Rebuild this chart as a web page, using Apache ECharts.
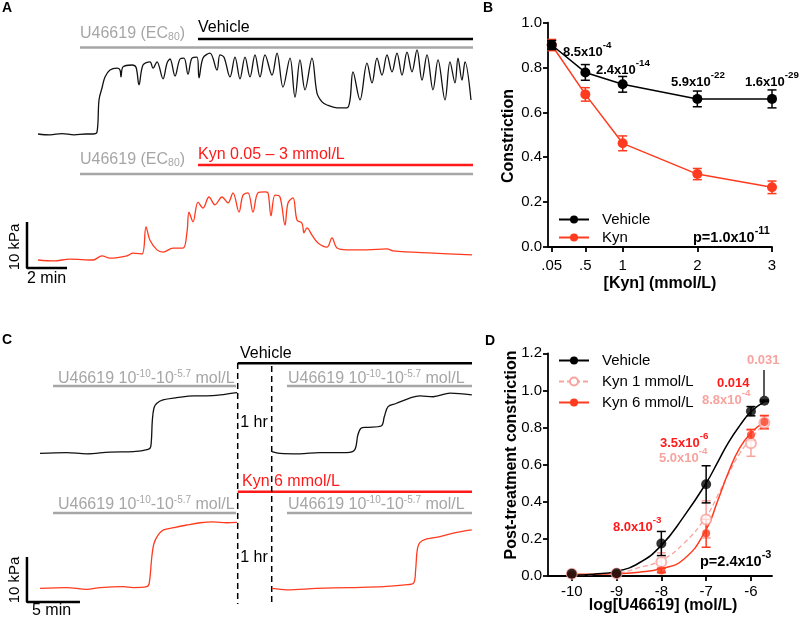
<!DOCTYPE html>
<html>
<head>
<meta charset="utf-8">
<script src="https://cdn.jsdelivr.net/npm/echarts@6.0.0/dist/echarts.min.js"></script>
<style>
  html, body { margin: 0; padding: 0; background: #fff; }
  #main { width: 800px; height: 619px; }
</style>
</head>
<body>
<div id="main"></div>
<script>
// ---- A: myograph traces (time in min, tension in kPa) ----
const vehTraceA = [
  [0, 0], [0.6, -0.2], [1.2, 0.1], [1.8, -0.2], [2.4, 0], [2.75, 0], [2.95, 0.4], [3.05, 7.4], [3.2, 10],
  [3.35, 12.4], [3.6, 13.9], [3.95, 14.3], [4.1, 13.9], [4.15, 12.4], [4.25, 14.6], [4.7, 15], [4.9, 14.5],
  [5.05, 10.7], [5.25, 15], [5.6, 15.7], [5.75, 14.3], [5.95, 15.7], [6.25, 12], [6.45, 15.4], [6.6, 16.3],
  [6.85, 12.6], [7.1, 16.3], [7.3, 16.5], [7.5, 13], [7.7, 16.5], [7.95, 16.7], [8.05, 12.2], [8.25, 16.5],
  [8.6, 17.6], [8.95, 13.9], [9.1, 17.2], [9.3, 16.7], [9.6, 12.4], [9.85, 16.7], [10.1, 12], [10.35, 16.7],
  [10.6, 12.4], [10.85, 17.2], [11.1, 12.4], [11.35, 17.2], [11.7, 12.8], [11.95, 17.6], [12.25, 10.2],
  [12.6, 16.5], [12.85, 8], [13.1, 16.1], [13.35, 9.6], [13.7, 16.5], [13.95, 8.9], [14.2, 7], [14.45, 6.3],
  [14.95, 5.7], [15.45, 5.7], [15.6, 7.4], [15.75, 13.5], [16.1, 7.4], [16.45, 15.4], [16.7, 11.1],
  [16.95, 16.5], [17.2, 12.8], [17.45, 17.2], [17.7, 13.5], [17.95, 17.6], [18.2, 12.8], [18.45, 17.8],
  [18.7, 13.5], [18.95, 18.3], [19.2, 11.7], [19.45, 17.2], [19.75, 9.6], [20, 16.1], [20.35, 7.4],
  [20.6, 15.7], [20.85, 11.1], [21, 16.5], [21.2, 11.7], [21.35, 15.7], [21.65, 7.4]
];
const kynTraceA = [
  [0, 0], [0.8, -0.2], [1.6, 0.2], [2.75, 0], [3.2, 0.9], [3.6, 0.4], [4.45, 0.9], [4.75, 1.5], [5.2, 1.3],
  [5.4, 7.2], [5.6, 4.3], [5.95, 2.2], [6.25, 1.7], [6.75, 2.6], [7.25, 2.6], [7.45, 6.1], [7.55, 10.4],
  [7.75, 8.3], [8, 12.6], [8.25, 11.3], [8.55, 13.7], [8.85, 12], [9.2, 13.7], [9.5, 12.4], [9.75, 14.6],
  [10.05, 10.4], [10.25, 14.1], [10.5, 14.6], [10.75, 10.4], [11, 14.6], [11.35, 14.8], [11.5, 14.6],
  [11.65, 9.6], [11.85, 14.1], [12.1, 13.7], [12.35, 7.6], [12.5, 12.4], [12.75, 13.5], [12.95, 8.7],
  [13.2, 8], [13.3, 5.9], [13.45, 7], [13.7, 5.4], [14, 3.7], [14.45, 2.8], [14.7, 4.8], [14.95, 2.6],
  [15.45, 2.2], [16.45, 2.2], [17.45, 2.4], [17.75, 2], [19.75, 1.5], [21.7, 1.1]
];

// ---- C: cumulative U46619 before / after 1 hr treatment ----
const vehTraceC1 = [
  [0, -0.1], [2.5, 0.1], [4.4, -0.2], [6.6, 0.2], [8.8, 0.3], [10.2, 0.8], [10.45, 1.4], [10.6, 7.3],
  [10.75, 10], [11, 11], [11.6, 11.8], [12.9, 12.3], [14.5, 12.7], [15.7, 12.7], [17, 12.9], [18.2, 13.3], [18.6, 13.4]
];
const vehTraceC2 = [
  [0, 0.3], [0.75, -0.1], [2.6, -0.2], [4.5, 0.1], [7.05, 0.1], [7.8, 0.7], [8.1, 4], [8.4, 5.5], [8.9, 5.7],
  [10.3, 6], [10.6, 8.1], [10.95, 10.3], [11.7, 11], [13, 12.2], [13.95, 12.7], [15.2, 12.5], [16.8, 13.3], [18.85, 12.9]
];
const kynTraceC1 = [
  [0, -0.1], [2.5, 0.1], [4.4, -0.3], [5.7, 0.1], [7.85, 0.3], [8.8, 0.1], [10.05, 0.3], [10.3, 1.05],
  [10.55, 6.95], [10.75, 9.9], [11.15, 11.8], [11.65, 12.9], [12.6, 13.4], [13.85, 14], [15.1, 14.5],
  [16.35, 14.7], [17.6, 14.5], [18.6, 14.6]
];
const kynTraceC2 = [
  [0, -0.1], [1.4, -0.4], [4.2, -0.1], [7.35, 0.1], [10.5, 0.3], [12.55, 0.7], [13.35, 1.05], [13.55, 4],
  [13.7, 8.4], [13.95, 10.1], [14.6, 10.9], [15.85, 11.4], [17.1, 12.2], [18.85, 12.9]
];

// ---- B: constriction vs [Kyn] ----
const kynDoses = [0.05, 0.5, 1, 2, 3];
const kynDoseLabels = ['.05', '.5', '1', '2', '3'];
const vehMeanB = [0.90, 0.778, 0.725, 0.66, 0.66];
const vehErrB = [0.02, 0.035, 0.035, 0.035, 0.04];
const kynMeanB = [0.90, 0.68, 0.462, 0.325, 0.266];
const kynErrB = [0.025, 0.03, 0.033, 0.025, 0.028];
const pMantB = ['8.5x10', '2.4x10', '5.9x10', '1.6x10'];
const pExpB = ['-4', '-14', '-22', '-29'];

// ---- D: post-treatment U46619 curves ----
const logDoses = [-10, -9, -8, -7, -6, -5.7];
const logTicks = [-10, -9, -8, -7, -6];
const vehMeanD = [0.012, 0.015, 0.175, 0.494, 0.888, 0.944];
const vehErrD = [0.004, 0.004, 0.065, 0.1, 0.025, 0.004];
const kyn1MeanD = [0.012, 0.014, 0.075, 0.305, 0.715, 0.826];
const kyn1ErrD = [0.004, 0.004, 0.05, 0.1, 0.07, 0.035];
const kyn6MeanD = [0.01, 0.012, 0.03, 0.23, 0.76, 0.83];
const kyn6ErrD = [0.004, 0.004, 0.012, 0.075, 0.03, 0.035];
// fitted curves as drawn in the figure
const fitX = [-10, -9.5, -9, -8.5, -8, -7.5, -7, -6.75, -6.5, -6.25, -6, -5.7];
const vehFit = [0.004, 0.01, 0.025, 0.07, 0.165, 0.32, 0.5, 0.61, 0.72, 0.81, 0.885, 0.94];
const kyn1Fit = [0.004, 0.008, 0.015, 0.045, 0.085, 0.175, 0.32, 0.43, 0.55, 0.66, 0.74, 0.82];
const kyn6Fit = [0.01, 0.011, 0.013, 0.02, 0.04, 0.09, 0.25, 0.4, 0.56, 0.69, 0.77, 0.83];

const FONT = 'Liberation Sans, Arial, Helvetica, sans-serif';
const BLACK = '#000';
const RED = '#ff3b1f';
const BARRED = '#ff1a1a';
const PINK = '#f8a39e';
const GREY = '#a6a6a6';

const zip = (xs, ys) => xs.map((x, i) => [x, ys[i]]);
const errData = (xs, m, e) => xs.map((x, i) => [x, m[i] - e[i], m[i] + e[i]]);

function errorBar(params, api) {
  const x = api.value(0);
  const top = api.coord([x, api.value(2)]);
  const bot = api.coord([x, api.value(1)]);
  const w = 4.5;
  const style = { stroke: api.visual('color'), lineWidth: 1.5 };
  return {
    type: 'group',
    children: [
      { type: 'line', shape: { x1: top[0], y1: top[1], x2: bot[0], y2: bot[1] }, style },
      { type: 'line', shape: { x1: top[0] - w, y1: top[1], x2: top[0] + w, y2: top[1] }, style },
      { type: 'line', shape: { x1: bot[0] - w, y1: bot[1], x2: bot[0] + w, y2: bot[1] }, style }
    ]
  };
}

// text helpers for the annotations
function txt(x, y, text, o) {
  o = o || {};
  return {
    type: 'text', x: x, y: y, rotation: o.rot || 0, silent: true,
    style: {
      text: text, fill: o.color || BLACK, fontSize: o.size || 16,
      fontWeight: o.bold ? 'bold' : 'normal', fontFamily: FONT,
      align: o.align || 'left', verticalAlign: 'middle', rich: o.rich
    }
  };
}
function supText(x, y, mant, exp, color, size) {
  size = size || 13;
  return txt(x, y - 2.5, '{m|' + mant + '}{s|' + exp + '}', {
    rich: {
      m: { fontSize: size, fontWeight: 'bold', fontFamily: FONT, fill: color, padding: [5, 0, 0, 0], verticalAlign: 'bottom' },
      s: { fontSize: size * 0.75, fontWeight: 'bold', fontFamily: FONT, fill: color, verticalAlign: 'top' }
    }
  });
}
function line(x1, y1, x2, y2, color, w, dash) {
  return {
    type: 'line', silent: true,
    shape: { x1: x1, y1: y1, x2: x2, y2: y2 },
    style: { stroke: color, lineWidth: w, lineDash: dash || null }
  };
}
const ec80 = '{g|U46619 (EC}{b|80}{g|)}';
const ec80Rich = {
  g: { fontSize: 16, fontFamily: FONT, fill: GREY, verticalAlign: 'top' },
  b: { fontSize: 10.5, fontFamily: FONT, fill: GREY, verticalAlign: 'bottom', padding: [6, 0, 0, 0] }
};
const uRange = '{g|U46619 10}{s|-10}{g|-10}{s|-5.7}{g| mol/L}';
const uRich = {
  g: { fontSize: 16, fontFamily: FONT, fill: GREY, verticalAlign: 'bottom', padding: [2, 0, 0, 0] },
  s: { fontSize: 10, fontFamily: FONT, fill: GREY, verticalAlign: 'top' }
};

// grids: 0 A-veh, 1 A-kyn, 2 B, 3 C-veh pre, 4 C-veh post, 5 C-kyn pre, 6 C-kyn post, 7 D
const grids = [
  { left: 18, top: 42, width: 460, height: 101.2 },
  { left: 18, top: 186.4, width: 460, height: 87.4 },
  { left: 548, top: 22.6, width: 224, height: 224.4 },
  { left: 24.1, top: 376.5, width: 217.3, height: 90 },
  { left: 272, top: 376.5, width: 201.4, height: 90 },
  { left: 24.1, top: 511.5, width: 217.3, height: 94.5 },
  { left: 272, top: 511.5, width: 201.4, height: 94.5 },
  { left: 548, top: 353.3, width: 224, height: 222.7 }
];
const hidden = (i, min, max) => ({ gridIndex: i, type: 'value', min: min, max: max, show: false });

const axisLineStyle = { show: true, lineStyle: { color: BLACK, width: 1.8 } };
const tickStyle = { show: true, length: 5, lineStyle: { color: BLACK, width: 1.8 } };
const labelStyle = { color: BLACK, fontSize: 15, fontFamily: FONT };

const xAxes = [
  hidden(0, -1, 22), hidden(1, -1, 22),
  {
    gridIndex: 2, type: 'value', min: 0, max: 3,
    axisLine: axisLineStyle,
    axisTick: Object.assign({ customValues: kynDoses }, tickStyle),
    axisLabel: Object.assign({
      customValues: kynDoses, margin: 11,
      formatter: v => kynDoseLabels[kynDoses.indexOf(v)]
    }, labelStyle),
    splitLine: { show: false }
  },
  hidden(3, -1.5, 19), hidden(4, 0, 19), hidden(5, -1.5, 19), hidden(6, 0, 19),
  {
    gridIndex: 7, type: 'value', min: -10.53, max: -5.53,
    axisLine: axisLineStyle,
    axisTick: Object.assign({ customValues: logTicks }, tickStyle),
    axisLabel: Object.assign({ customValues: logTicks, margin: 8, formatter: v => String(v) }, labelStyle),
    splitLine: { show: false }
  }
];
const yAxes = [
  hidden(0, -2, 20), hidden(1, -3, 16),
  {
    gridIndex: 2, type: 'value', min: 0, max: 1, interval: 0.2,
    axisLine: axisLineStyle, axisTick: tickStyle,
    axisLabel: Object.assign({ margin: 6, formatter: v => v.toFixed(1) }, labelStyle),
    splitLine: { show: false }
  },
  hidden(3, -3, 17), hidden(4, -3, 17), hidden(5, -4, 17), hidden(6, -4, 17),
  {
    gridIndex: 7, type: 'value', min: 0, max: 1.2, interval: 0.2,
    axisLine: axisLineStyle, axisTick: tickStyle,
    axisLabel: Object.assign({ margin: 6, formatter: v => v.toFixed(1) }, labelStyle),
    splitLine: { show: false }
  }
];

function trace(i, data, color) {
  return {
    type: 'line', xAxisIndex: i, yAxisIndex: i, data: data, symbol: 'none', silent: true,
    smooth: 0.35, lineStyle: { color: color, width: 1.3 }, z: 3
  };
}
// 10 kPa / n min scale bar, drawn in the trace's own units
function scaleBar(i, t0, p0, minutes) {
  return {
    type: 'line', xAxisIndex: i, yAxisIndex: i, symbol: 'none', silent: true,
    data: [[t0, p0 + 10], [t0, p0], [t0 + minutes, p0]],
    lineStyle: { color: BLACK, width: 2.5 }
  };
}

const series = [
  trace(0, vehTraceA, '#111'),
  trace(1, kynTraceA, RED),
  scaleBar(1, -0.55, -1.74, 2),
  trace(3, vehTraceC1, '#111'),
  trace(4, vehTraceC2, '#111'),
  trace(5, kynTraceC1, RED),
  trace(6, kynTraceC2, RED),
  scaleBar(5, -1.23, -3.1, 5),

  // B
  { type: 'custom', name: 'Kyn err', xAxisIndex: 2, yAxisIndex: 2, renderItem: errorBar,
    itemStyle: { color: RED }, data: errData(kynDoses, kynMeanB, kynErrB), z: 2 },
  { type: 'line', name: 'Kyn', xAxisIndex: 2, yAxisIndex: 2, data: zip(kynDoses, kynMeanB),
    symbol: 'circle', symbolSize: 10, itemStyle: { color: RED }, lineStyle: { color: RED, width: 1.5 }, z: 3 },
  { type: 'custom', name: 'Vehicle err', xAxisIndex: 2, yAxisIndex: 2, renderItem: errorBar,
    itemStyle: { color: BLACK }, data: errData(kynDoses, vehMeanB, vehErrB), z: 4 },
  { type: 'line', name: 'Vehicle', xAxisIndex: 2, yAxisIndex: 2, data: zip(kynDoses, vehMeanB),
    symbol: 'circle', symbolSize: 10, itemStyle: { color: BLACK }, lineStyle: { color: BLACK, width: 1.5 }, z: 5 },

  // D curves
  { type: 'line', name: 'Kyn 1 mmol/L', xAxisIndex: 7, yAxisIndex: 7, data: zip(fitX, kyn1Fit),
    smooth: 0.5, showSymbol: false, symbol: 'emptyCircle', symbolSize: 10,
    itemStyle: { color: PINK }, lineStyle: { color: PINK, width: 1.3, type: [5, 3] }, z: 2 },
  { type: 'line', name: 'Kyn 6 mmol/L', xAxisIndex: 7, yAxisIndex: 7, data: zip(fitX, kyn6Fit),
    smooth: 0.5, showSymbol: false, symbol: 'circle', symbolSize: 8,
    itemStyle: { color: RED }, lineStyle: { color: RED, width: 1.5 }, z: 2 },
  { type: 'line', name: 'Vehicle ', xAxisIndex: 7, yAxisIndex: 7, data: zip(fitX, vehFit),
    smooth: 0.5, showSymbol: false, symbol: 'circle', symbolSize: 10,
    itemStyle: { color: BLACK }, lineStyle: { color: BLACK, width: 1.5 }, z: 2 },
  { type: 'custom', name: 'k1 err', xAxisIndex: 7, yAxisIndex: 7, renderItem: errorBar,
    itemStyle: { color: PINK }, data: errData(logDoses, kyn1MeanD, kyn1ErrD), z: 3 },
  { type: 'custom', name: 'k6 err', xAxisIndex: 7, yAxisIndex: 7, renderItem: errorBar,
    itemStyle: { color: RED }, data: errData(logDoses, kyn6MeanD, kyn6ErrD), z: 3 },
  { type: 'custom', name: 'veh err', xAxisIndex: 7, yAxisIndex: 7, renderItem: errorBar,
    itemStyle: { color: BLACK }, data: errData(logDoses, vehMeanD, vehErrD), z: 3 },
  { type: 'scatter', name: 'k1 pts', xAxisIndex: 7, yAxisIndex: 7, data: zip(logDoses, kyn1MeanD),
    symbol: 'emptyCircle', symbolSize: 10, itemStyle: { color: PINK, borderWidth: 1.5 }, z: 4 },
  { type: 'scatter', name: 'k6 pts', xAxisIndex: 7, yAxisIndex: 7, data: zip(logDoses, kyn6MeanD),
    symbol: 'circle', symbolSize: 8, itemStyle: { color: RED }, z: 5 },
  { type: 'scatter', name: 'veh pts', xAxisIndex: 7, yAxisIndex: 7, data: zip(logDoses, vehMeanD),
    symbol: 'circle', symbolSize: 10, itemStyle: { color: BLACK }, z: 6 }
];

const legendText = { color: BLACK, fontSize: 15, fontFamily: FONT, padding: [0, 0, 0, 8] };
const legends = [
  { data: ['Vehicle', 'Kyn'], orient: 'vertical', left: 553, top: 207, itemWidth: 30, itemHeight: 10,
    itemGap: 3, textStyle: legendText, selectedMode: false },
  { data: ['Vehicle ', 'Kyn 1 mmol/L', 'Kyn 6 mmol/L'], orient: 'vertical', left: 553, top: 348,
    itemWidth: 30, itemHeight: 10, itemGap: 6, textStyle: legendText, selectedMode: false }
];

const elements = [
  // panel letters
  txt(2, 8, 'A', { bold: true, size: 14 }),
  txt(483, 8, 'B', { bold: true, size: 14 }),
  txt(2, 340, 'C', { bold: true, size: 14 }),
  txt(485, 341, 'D', { bold: true, size: 14 }),

  // A: application bars
  txt(80, 34, ec80, { rich: ec80Rich }),
  txt(198, 28, 'Vehicle'),
  line(198, 39, 473, 39, BLACK, 2.5),
  line(80, 47.5, 473, 47.5, GREY, 2.5),
  txt(80, 160, ec80, { rich: ec80Rich }),
  txt(198, 155, 'Kyn 0.05 \u2013 3 mmol/L', { color: BARRED }),
  line(198, 165, 473, 165, BARRED, 2.5),
  line(80, 174, 473, 174, GREY, 2.5),
  txt(15, 247, '10 kPa', { rot: Math.PI / 2, align: 'center', size: 15 }),
  txt(27, 279, '2 min'),

  // B annotations
  supText(563, 52, pMantB[0], pExpB[0], BLACK),
  supText(596, 70, pMantB[1], pExpB[1], BLACK),
  supText(671, 82, pMantB[2], pExpB[2], BLACK),
  supText(745, 82, pMantB[3], pExpB[3], BLACK),
  supText(693, 238, 'p=1.0x10', '-11', BLACK, 14.5),
  txt(509, 136, 'Constriction', { rot: Math.PI / 2, align: 'center', bold: true }),
  txt(660, 284, '[Kyn] (mmol/L)', { align: 'center', bold: true }),

  // C: application bars and break
  txt(240, 354, 'Vehicle'),
  line(237.7, 363.3, 472, 363.3, BLACK, 2.5),
  txt(58, 378, uRange, { rich: uRich }),
  line(53, 386, 236, 386, GREY, 2.5),
  txt(288, 378, uRange, { rich: uRich }),
  line(287, 386, 472, 386, GREY, 2.5),
  txt(242, 482, 'Kyn 6 mmol/L', { color: BARRED }),
  line(237.7, 491.7, 472, 491.7, BARRED, 2.5),
  txt(58, 504, uRange, { rich: uRich }),
  line(53, 513, 236, 513, GREY, 2.5),
  txt(288, 504, uRange, { rich: uRich }),
  line(287, 513, 472, 513, GREY, 2.5),
  line(237.7, 363, 237.7, 604, BLACK, 1.5, [6, 4]),
  line(271.7, 366, 271.7, 604, BLACK, 1.5, [6, 4]),
  txt(254, 423, '1 hr', { align: 'center' }),
  txt(254, 558, '1 hr', { align: 'center' }),
  txt(15, 580, '10 kPa', { rot: Math.PI / 2, align: 'center', size: 15 }),
  txt(32, 611, '5 min'),

  // D annotations
  supText(700, 562, 'p=2.4x10', '-3', BLACK, 14.5),
  txt(747, 360, '0.031', { color: PINK, bold: true, size: 13 }),
  line(764, 370, 764, 396, BLACK, 1.3),
  txt(717, 383, '0.014', { color: BARRED, bold: true, size: 13 }),
  supText(702, 400, '8.8x10', '-4', PINK),
  supText(660, 443, '3.5x10', '-6', BARRED),
  supText(659, 458, '5.0x10', '-4', PINK),
  supText(613, 527, '8.0x10', '-3', BARRED),
  txt(512, 455, 'Post-treatment constriction', { rot: Math.PI / 2, align: 'center', bold: true }),
  txt(663, 606, 'log[U46619] (mol/L)', { align: 'center', bold: true })
];

const chart = echarts.init(document.getElementById('main'));
chart.setOption({
  animation: false,
  backgroundColor: '#fff',
  grid: grids,
  xAxis: xAxes,
  yAxis: yAxes,
  legend: legends,
  series: series,
  graphic: { elements: elements }
});
</script>
</body>
</html>
